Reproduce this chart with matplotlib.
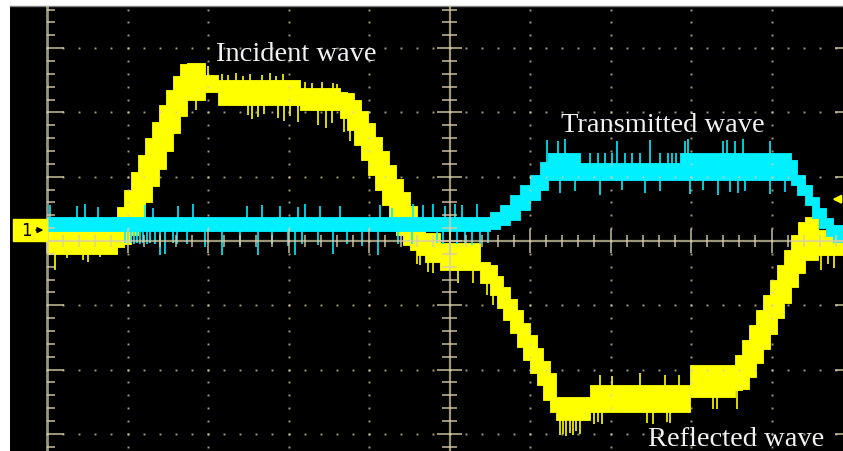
import numpy as np
import matplotlib.pyplot as plt
from matplotlib.patches import Rectangle

# Channel 1 (yellow): step edges (div) and band top / bottom (div)
ch1_x = [0.00, 0.87, 0.96, 1.04, 1.13, 1.22, 1.30, 1.39, 1.48, 1.57, 1.65, 1.74, 1.96, 2.12,
         3.14, 3.64, 3.73, 3.81, 3.90, 3.99, 4.07, 4.16, 4.25, 4.34, 4.42, 4.51, 4.60, 4.70,
         4.88, 5.38, 5.50, 5.59, 5.66, 5.75, 5.84, 5.91, 6.00, 6.09, 6.16, 6.25, 6.32, 6.75,
         7.99, 8.55, 8.63, 8.72, 8.81, 8.89, 8.98, 9.07, 9.16, 9.24, 9.33, 9.42, 9.58]
ch1_top = [0.22, 0.53, 0.79, 1.07, 1.34, 1.60, 1.85, 2.12, 2.35, 2.57, 2.75, 2.77, 2.58, 2.50,
           2.38, 2.32, 2.30, 2.20, 2.02, 1.83, 1.62, 1.40, 1.18, 0.97, 0.76, 0.55, 0.35, 0.12,
           -0.03, -0.33, -0.38, -0.55, -0.72, -0.90, -1.08, -1.27, -1.46, -1.66, -1.86, -2.05, -2.43, -2.24,
           -1.93, -1.77, -1.54, -1.31, -1.07, -0.84, -0.61, -0.37, -0.14, 0.09, 0.30, 0.37, 0.17]
ch1_bot = [-0.20, -0.10, -0.05, 0.10, 0.35, 0.60, 0.85, 1.12, 1.40, 1.68, 1.95, 2.20, 2.32, 2.12,
           2.04, 1.91, 1.73, 1.49, 1.26, 1.03, 0.79, 0.56, 0.33, 0.09, -0.06, -0.14, -0.22, -0.33,
           -0.45, -0.65, -0.84, -1.04, -1.23, -1.43, -1.65, -1.85, -2.05, -2.24, -2.47, -2.66, -2.78, -2.66,
           -2.43, -2.32, -2.30, -2.12, -1.90, -1.68, -1.44, -1.20, -0.96, -0.72, -0.50, -0.30, -0.22]

# Channel 1 noise spikes: position and tip level (div)
ch1_spike_x = [0.10, 0.25, 0.45, 0.51, 0.66,
               2.00, 2.17, 2.25, 2.35, 2.43, 2.52, 2.67, 2.77, 2.84, 2.93, 3.20, 3.29, 3.42, 3.55, 3.60,
               1.85, 2.50, 2.55, 2.62, 2.70, 2.87, 2.94, 3.02, 3.12, 3.37, 3.47, 3.54, 3.69, 3.76,
               4.60, 4.63, 4.73, 4.80, 5.11, 5.29, 5.47, 5.54,
               6.37, 6.41, 6.45, 6.50, 6.53, 6.57, 6.62, 6.80, 6.85, 6.90, 7.45, 7.53, 7.70, 7.74,
               8.27, 8.32, 8.57, 6.87, 7.02, 7.37, 7.68, 7.85, 9.39, 9.62, 9.70, 9.78]
ch1_spike_tip = [-0.45, -0.26, -0.30, -0.33, -0.25,
                 2.72, 2.60, 2.58, 2.61, 2.57, 2.60, 2.58, 2.62, 2.57, 2.60, 2.47, 2.46, 2.48, 2.45, 2.44,
                 2.04, 1.96, 1.90, 1.93, 1.97, 1.92, 1.86, 1.95, 1.85, 1.80, 1.76, 1.84, 1.70, 1.55,
                 -0.36, -0.38, -0.48, -0.50, -0.65, -0.66, -0.84, -1.00,
                 -3.02, -3.00, -3.03, -2.98, -3.02, -2.95, -3.00, -2.84, -2.82, -2.85, -2.83, -2.84, -2.82, -2.83,
                 -2.62, -2.62, -2.62, -2.08, -2.10, -2.06, -2.09, -2.08, -0.40, -0.45, -0.35, -0.42]

# Channel 2 (cyan)
ch2_x = [0.00, 5.50, 5.63, 5.75, 5.88, 6.00, 6.12, 6.22, 6.62, 7.86, 9.24, 9.32, 9.42, 9.50, 9.59, 9.68, 9.76]
ch2_top = [0.37, 0.45, 0.56, 0.72, 0.87, 1.03, 1.23, 1.37, 1.22, 1.37, 1.26, 1.03, 0.87, 0.68, 0.51, 0.36, 0.25]
ch2_bot = [0.16, 0.19, 0.25, 0.33, 0.48, 0.64, 0.79, 0.95, 0.95, 0.95, 0.87, 0.72, 0.56, 0.36, 0.20, 0.08, -0.02]

ch2_spike_x = [0.04, 0.37, 0.47, 0.63, 1.22, 1.32, 1.63, 1.81, 2.48, 2.67, 2.89, 3.12, 3.20, 3.39,
               3.64, 4.14, 4.29, 4.55, 4.67, 4.80, 4.94, 5.07, 5.16, 5.34,
               0.97, 1.01, 1.04, 1.08, 1.12, 1.16, 1.19, 1.24, 1.28, 1.34,
               1.40, 1.47, 1.57, 1.61, 1.74, 1.96, 2.17, 2.40, 2.62, 2.80,
               2.99, 3.08, 3.17, 3.37, 3.55, 3.73, 3.91, 4.11, 4.36, 4.53,
               4.84, 4.92, 5.01, 5.09, 5.19, 5.28, 5.38, 5.48,
               6.21, 6.35, 6.43, 7.08, 7.49, 7.93, 7.96, 8.40, 8.45, 8.55, 8.65, 8.98,
               6.75, 6.84, 6.93, 7.02, 7.18, 7.27, 7.37, 7.61, 7.71, 7.76, 7.81,
               6.37, 6.56, 6.87, 7.14, 7.43, 7.61, 7.99, 8.15, 8.34, 8.48, 8.58, 8.67, 8.98, 9.17]
ch2_spike_tip = [0.56, 0.55, 0.57, 0.53, 0.56, 0.52, 0.55, 0.57, 0.54, 0.56, 0.55, 0.53, 0.57, 0.55,
                 0.54, 0.56, 0.52, 0.58, 0.56, 0.57, 0.55, 0.58, 0.56, 0.57,
                 -0.03, -0.04, -0.03, -0.05, -0.03, -0.04, -0.03, -0.05, -0.03, -0.04,
                 -0.22, -0.20, -0.03, -0.05, -0.04, -0.10, -0.22, -0.06, -0.21, -0.05,
                 -0.08, -0.22, -0.04, -0.06, -0.20, -0.05, -0.08, -0.22, -0.05, -0.04,
                 -0.03, -0.05, -0.20, -0.04, -0.03, -0.06, -0.04, -0.03,
                 1.57, 1.55, 1.58, 1.56, 1.57, 1.55, 1.58, 1.56, 1.57, 1.55, 1.58, 1.56,
                 1.37, 1.37, 1.37, 1.37, 1.37, 1.37, 1.37, 1.37, 1.37, 1.37, 1.37,
                 0.75, 0.78, 0.72, 0.80, 0.74, 0.77, 0.73, 0.79, 0.72, 0.76, 0.74, 0.78, 0.73, 0.76]

YELLOW = '#ffff00'
CYAN = '#00f0ff'

fig = plt.figure(figsize=(8.43, 4.51), dpi=100, facecolor='white')
ax = fig.add_axes([10 / 843, 0, 833 / 843, 445 / 451])
ax.set_facecolor('black')
ax.set_xlim(-0.46, 9.888)
ax.set_ylim(-3.266, 3.655)
ax.set_xticks([])
ax.set_yticks([])
for side in ['left', 'right', 'bottom']:
    ax.spines[side].set_visible(False)
ax.spines['top'].set_color('#808080')
ax.spines['top'].set_linewidth(1.0)


def draw_trace(xs, top, bot, sx, stip, color, z):
    x = np.array(xs + [10.0])
    t = np.array(top + [top[-1]])
    b = np.array(bot + [bot[-1]])
    # spikes start from the middle of the band they belong to
    idx = np.searchsorted(x, sx, side='right') - 1
    base = (t[idx] + b[idx]) / 2
    ax.vlines(sx, base, stip, color=color, lw=1.2, zorder=z)
    ax.fill_between(x, b, t, step='post', color=color, lw=0.6, edgecolor=color, zorder=z)


draw_trace(ch1_x, ch1_top, ch1_bot, ch1_spike_x, ch1_spike_tip, YELLOW, 2)
draw_trace(ch2_x, ch2_top, ch2_bot, ch2_spike_x, ch2_spike_tip, CYAN, 3)

# graticule, drawn over the traces
gc = '#d8cea8'
ga = 0.72
xt = np.round(np.arange(0, 10.01, 0.2), 2)
yt = np.round(np.arange(-4, 4.01, 0.2), 2)
x_major = np.isclose(xt % 1, 0) | np.isclose(xt % 1, 1)
y_major = np.isclose(yt % 1, 0) | np.isclose(yt % 1, 1)

ax.plot([0, 10], [0, 0], color=gc, alpha=ga, lw=1.6, zorder=5)
ax.plot([5, 5], [-4, 4], color=gc, alpha=ga, lw=1.6, zorder=5)
ax.plot([0, 0], [-4, 4], color=gc, alpha=ga, lw=2.0, zorder=5)
ax.plot([10, 10], [-4, 4], color=gc, alpha=ga, lw=2.0, zorder=5)

# ticks on centre lines
ax.vlines(xt[~x_major], -0.09, 0.09, color=gc, alpha=ga, lw=1.4, zorder=5)
ax.vlines(xt[x_major], -0.18, 0.18, color=gc, alpha=ga, lw=1.4, zorder=5)
ax.hlines(yt[~y_major], 4.91, 5.09, color=gc, alpha=ga, lw=1.4, zorder=5)
ax.hlines(yt[y_major], 4.85, 5.15, color=gc, alpha=ga, lw=1.4, zorder=5)
# ticks on the frame
ax.hlines(yt[~y_major], 0, 0.1, color=gc, alpha=ga, lw=1.4, zorder=5)
ax.hlines(yt[y_major], 0, 0.21, color=gc, alpha=ga, lw=1.4, zorder=5)
ax.hlines(yt[~y_major], 9.9, 10, color=gc, alpha=ga, lw=1.4, zorder=5)
ax.hlines(yt[y_major], 9.79, 10, color=gc, alpha=ga, lw=1.4, zorder=5)

# dotted division lines
for gx in [1, 2, 3, 4, 6, 7, 8, 9]:
    ax.plot(np.full_like(yt, gx), yt, ls='none', marker='s', ms=1.7, mec='none',
            color=gc, alpha=ga, zorder=5)
for gy in [-3, -2, -1, 1, 2, 3]:
    ax.plot(xt, np.full_like(xt, gy), ls='none', marker='s', ms=1.7, mec='none',
            color=gc, alpha=ga, zorder=5)

# channel 1 ground marker
ax.add_patch(Rectangle((-0.42, 0.0), 0.42, 0.34, color=YELLOW, zorder=6, clip_on=False))
ax.text(-0.25, 0.16, '1', color='black', fontsize=12, ha='center', va='center', zorder=7)
ax.annotate('', xy=(-0.01, 0.17), xytext=(-0.17, 0.17), zorder=7,
            arrowprops=dict(arrowstyle='-|>', color='black', lw=1.2, mutation_scale=8))

# trigger level marker
ax.annotate('', xy=(9.72, 0.65), xytext=(9.9, 0.65), zorder=7,
            arrowprops=dict(arrowstyle='-|>', color=YELLOW, lw=1.5, mutation_scale=12))

# labels
lab = dict(color='#f2f2f2', fontsize=20.5, family='Liberation Serif', ha='center',
           va='baseline', zorder=8)
ax.text(3.09, 2.80, 'Incident wave', **lab)
ax.text(7.65, 1.70, 'Transmitted wave', **lab)
ax.text(8.56, -3.19, 'Reflected wave', **lab)

fig.savefig('out.png', dpi=100, facecolor='white')
